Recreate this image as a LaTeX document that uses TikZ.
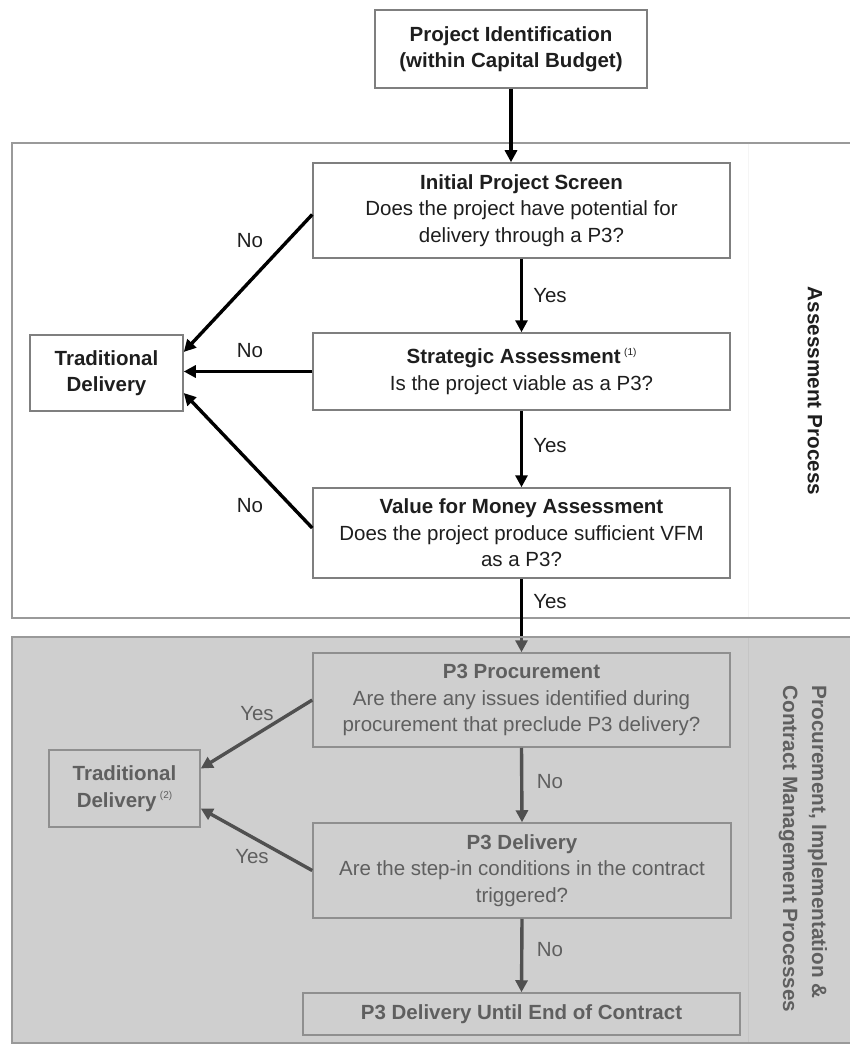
\documentclass[tikz,border=0pt]{standalone}
\usepackage{fontspec}
\setmainfont{Liberation Sans}
\usetikzlibrary{arrows.meta, positioning}

\definecolor{ink}{HTML}{1E1E1E}
\definecolor{boxline}{HTML}{7F7F7F}
\definecolor{frameline}{HTML}{9A9A9A}
\definecolor{greyfill}{HTML}{A0A0A0}

\newcommand{\refmark}[1]{\,\raisebox{0.75ex}{\fontsize{10}{10}\selectfont\mdseries(#1)}}

\begin{document}
\begin{tikzpicture}[x=1pt, y=-1pt,
    box/.style={draw=boxline, line width=1.5pt, align=center, text=ink,
      font=\fontsize{20.5}{26.5}\selectfont, inner sep=0pt},
    flow/.style={line width=3.4pt, draw=black, -{Triangle[length=12pt, width=12pt]}},
    lbl/.style={font=\fontsize{20.5}{24}\selectfont, text=ink, inner sep=0pt},
    side/.style={font=\fontsize{20.7}{29}\selectfont\bfseries, text=ink,
      rotate=-90, align=left, inner sep=0pt}]
        \useasboundingbox (0,0) rectangle (850,1048);
        \clip (0,0) rectangle (850,1048);
        \fill[white] (0,0) rectangle (850,1048);
        % Assessment frame
        \draw[frameline, line width=1.5pt] (12,143) rectangle (870,618);
        \draw[gray!8] (748,144) -- (748,617);
        \node[side] (assess) at (815,391) {Assessment Process};
        % Top box
        \node[box, minimum width=272pt, minimum height=78pt] (ident) at (511,49)
          {\textbf{Project Identification}\\\textbf{(within Capital Budget)}};
        % Assessment steps
        \node[box, minimum width=417pt, minimum height=95pt] (init) at (521.5,210.5)
          {\textbf{Initial Project Screen}\\Does the project have potential for\\delivery through a P3?};
        \node[box, minimum width=417pt, minimum height=77pt] (strat) at (521.5,371.5)
          {\textbf{Strategic Assessment}\refmark{1}\\Is the project viable as a P3?};
        \node[box, minimum width=417pt, minimum height=90pt] (vfm) at (521.5,533)
          {\textbf{Value for Money Assessment}\\Does the project produce sufficient VFM\\as a P3?};
        \node[box, minimum width=153pt, minimum height=76pt] (trad) at (106.5,373)
          {\textbf{Traditional}\\\textbf{Delivery}};
        % Procurement steps
        \node[box, minimum width=417pt, minimum height=94pt] (proc) at (521.5,700)
          {\textbf{P3 Procurement}\\Are there any issues identified during\\procurement that preclude P3 delivery?};
        \node[box, minimum width=418pt, minimum height=95pt] (deliv) at (522,870.5)
          {\textbf{P3 Delivery}\\Are the step-in conditions in the contract\\triggered?};
        \node[box, minimum width=437pt, minimum height=42pt] (final) at (521.5,1014)
          {\textbf{P3 Delivery Until End of Contract}};
        \node[box, minimum width=151pt, minimum height=77pt] (trad2) at (124.5,788.5)
          {\textbf{Traditional}\\\textbf{Delivery}\refmark{2}};
        % Arrows down
        \draw[flow] (ident.south) -- (ident.south |- init.north);
        \draw[flow] (init.south) -- (strat.north);
        \draw[flow] (strat.south) -- (vfm.north);
        \draw[flow] (vfm.south) -- (proc.north);
        \draw[flow] (proc.south) -- (deliv.north);
        \draw[flow] (deliv.south) -- (final.north);
        % Arrows to traditional delivery
        \draw[flow] ([yshift=-4pt]init.west) -- ([yshift=21pt]trad.east);
        \draw[flow] (strat.west) -- (strat.west -| trad.east);
        \draw[flow] ([yshift=5pt]vfm.west) -- ([yshift=-20pt]trad.east);
        \draw[flow] (proc.west) -- ([yshift=20pt]trad2.east);
        \draw[flow] (deliv.west) -- ([yshift=-20pt]trad2.east);
        % Labels
        \node[lbl] (no1) at (250,241) {No};
        \node[lbl] (no2) at (250,351) {No};
        \node[lbl] (no3) at (250,506) {No};
        \node[lbl] (yes1) at (550,296) {Yes};
        \node[lbl] (yes2) at (550,446) {Yes};
        \node[lbl] (yes3) at (550,602) {Yes};
        \node[lbl] (yes4) at (257,714) {Yes};
        \node[lbl] (yes5) at (252,857) {Yes};
        \node[lbl] (no4) at (550,782) {No};
        \node[lbl] (no5) at (550,950) {No};
        \draw[gray!15] (748,638) -- (748,1042);
        \node[side] (procside) at (803,849)
          {Procurement, Implementation \&\\Contract Management Processes};
        % Grey overlay
        \fill[greyfill, opacity=0.5] (12,637) rectangle (870,1043);
        \draw[frameline, line width=1.5pt] (12,637) rectangle (870,1043);
\end{tikzpicture}
\end{document}
